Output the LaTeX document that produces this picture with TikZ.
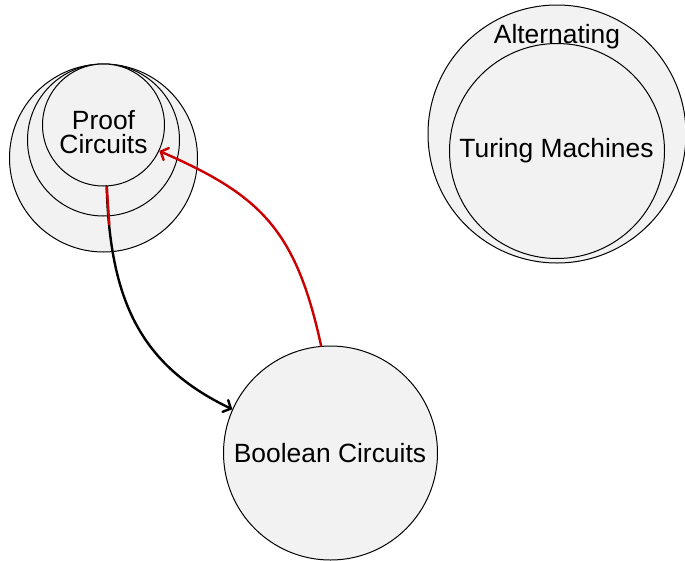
\documentclass[tikz,border=0pt]{standalone}
\usepackage{fontspec}
\setmainfont{Liberation Sans}
\usetikzlibrary{arrows.meta}
\definecolor{bubblefill}{RGB}{242,242,242}
\definecolor{linkred}{RGB}{204,0,0}
\begin{document}
\begin{tikzpicture}[x=1pt,y=-1pt,
  bubble/.style={circle, draw=black, line width=1pt, fill=bubblefill,
    inner sep=0pt, minimum size=#1},
  caption/.style={font=\fontsize{26.4}{23.5}\selectfont, inner sep=0pt, align=center},
  link/.style={line width=2.4pt, line cap=round,
    -{Straight Barb[length=6pt,width=13pt,line cap=round]}},
]
\useasboundingbox (0,0) rectangle (685,560);

% nested proof-circuit classes, all touching at the top
\node[bubble=188pt] (pc3) at (103.5,158) {};
\node[bubble=152pt] (pc2) at (103.5,140) {};
\node[bubble=122pt] (pc1) at (103.5,125) {};
\node[caption] (pctext) at (103.5,132) {Proof\\Circuits};

% alternating Turing machines
\node[bubble=258pt] (atm) at (557,134) {};
\node[bubble=215pt] (tm) at (557,151) {};
\node[caption, anchor=base] (alttext) at (557,43) {Alternating};
\node[caption, anchor=base] (tmtext) at (556.5,157) {Turing Machines};

% Boolean circuits
\node[bubble=214pt] (bc) at (330.5,453) {};
\node[caption, anchor=base] (bctext) at (330,462) {Boolean Circuits};

% translations between the models
\draw[link, black] (pc1.-87) .. controls (110,300) and (140,365) .. (bc.156);
\coordinate (redend) at (109.3,225);
\draw[linkred, line width=2.4pt] (pc1.-87) -- (redend);
\draw[link, linkred] (bc.95) .. controls (295.8,228.8) and (259.9,195) .. (pc1.-25);
\end{tikzpicture}
\end{document}
